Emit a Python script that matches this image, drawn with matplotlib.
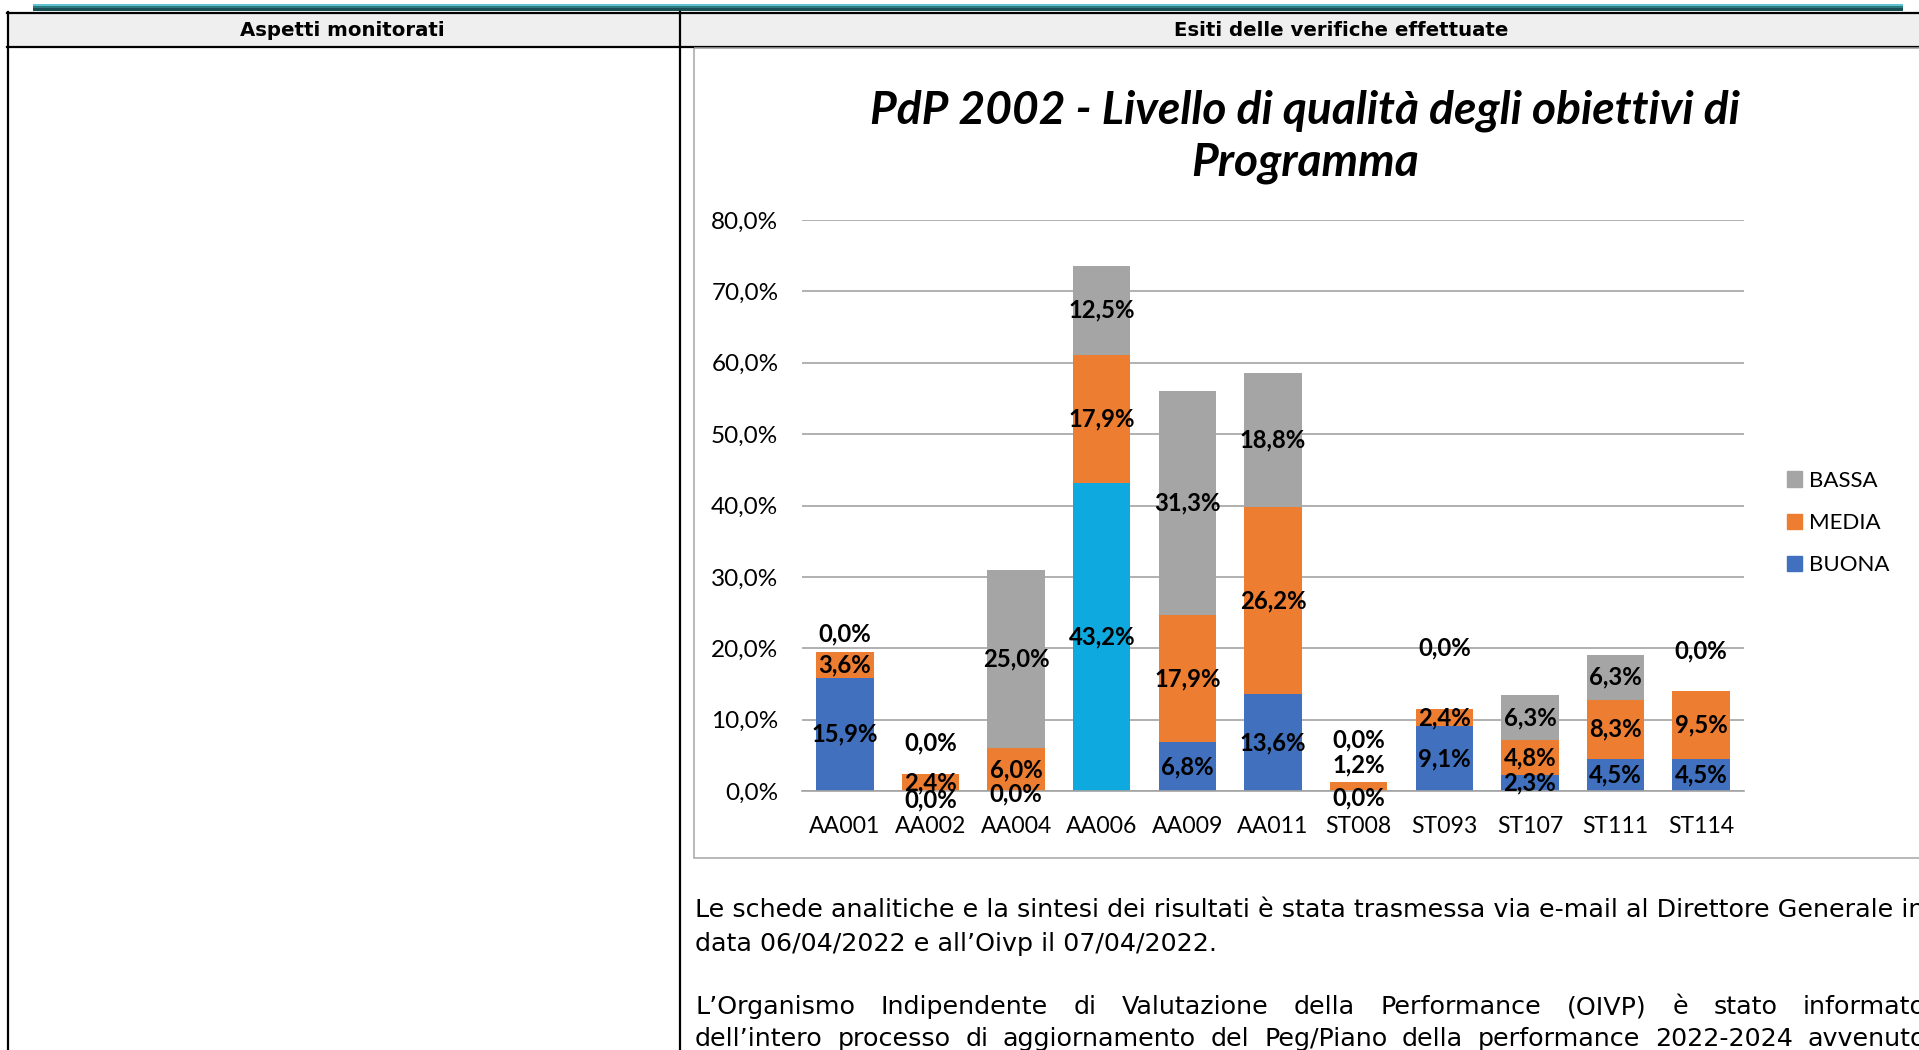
import numpy as np
import matplotlib
matplotlib.use("Agg")
import matplotlib.pyplot as plt
from matplotlib.transforms import Affine2D
from matplotlib.patches import Rectangle, Patch
from matplotlib.lines import Line2D

# ---------------- data ----------------
categories = ['AA001', 'AA002', 'AA004', 'AA006', 'AA009', 'AA011',
              'ST008', 'ST093', 'ST107', 'ST111', 'ST114']
buona = [15.9, 0.0, 0.0, 43.2, 6.8, 13.6, 0.0, 9.1, 2.3, 4.5, 4.5]
media = [3.6, 2.4, 6.0, 17.9, 17.9, 26.2, 1.2, 2.4, 4.8, 8.3, 9.5]
bassa = [0.0, 0.0, 25.0, 12.5, 31.3, 18.8, 0.0, 0.0, 6.3, 6.3, 0.0]
y_ticks = [0, 10, 20, 30, 40, 50, 60, 70, 80]

title_lines = ['PdP 2002 - Livello di qualità degli obiettivi di', 'Programma']
header_left = 'Aspetti monitorati'
header_right = 'Esiti delle verifiche effettuate'
para1 = ['Le schede analitiche e la sintesi dei risultati è stata trasmessa via e-mail al Direttore Generale in',
         'data 06/04/2022 e all’Oivp il 07/04/2022.']
para2 = ['L’Organismo Indipendente di Valutazione della Performance (OIVP) è stato informato',
         'dell’intero processo di aggiornamento del Peg/Piano della performance 2022-2024 avvenuto']

# ---------------- style ----------------
C_GRAY = '#A5A5A5'
C_ORANGE = '#ED7D31'
C_BLUE = '#4070BE'
C_HILITE = '#0EA9DE'      # highlighted AA006 BUONA bar
GRID = '#A3A3A3'
CHART_FONT = 'Lato'
BODY_FONT = 'DejaVu Sans'

# label nudges (percentage points) reproducing the original label layout
label_nudge = {
    'BASSA': {0: 2.5, 1: 4.3, 6: 6.0, 7: 8.6, 10: 5.6},
    'MEDIA': {6: 3.0},
    'BUONA': {1: -1.2, 2: -0.4, 6: -1.0},
}

W, H, DPI = 1919, 1050, 100
fig = plt.figure(figsize=(W / DPI, H / DPI), dpi=DPI)
fig.patch.set_facecolor('white')
pxT = Affine2D().scale(1 / W, -1 / H).translate(0, 1) + fig.transFigure
renderer = fig.canvas.get_renderer()


def text_width(s, size, **kw):
    t = fig.text(0, 0, s, fontsize=size, **kw)
    w = t.get_window_extent(renderer).width
    t.remove()
    return w


def fit_size(s, target, **kw):
    return 20 * target / text_width(s, 20, **kw)


def justify(line, x0, x1, y, size, **kw):
    words = line.split(' ')
    ws = [text_width(w, size, **kw) for w in words]
    gap = (x1 - x0 - sum(ws)) / (len(words) - 1)
    x = x0
    for w, wd in zip(words, ws):
        fig.text(x, y, w, transform=pxT, fontsize=size, ha='left', va='baseline', **kw)
        x += wd + gap


# ---------------- page decorations ----------------
for y0, y1, c in [(4, 6, '#62C2D2'), (6, 8, '#2A7A80'), (8, 11, '#1C4F54')]:
    fig.add_artist(Rectangle((33, y0), 1903 - 33, y1 - y0, transform=pxT,
                             facecolor=c, edgecolor='none', zorder=1))
fig.add_artist(Rectangle((8, 13), 1930, 33, transform=pxT,
                         facecolor='#EFEFEF', edgecolor='none', zorder=1))
for (xa, ya, xb, yb) in [(7, 12.5, 1930, 12.5), (7, 46.5, 1930, 46.5),
                         (8, 12, 8, 1060), (680, 12, 680, 1060)]:
    fig.add_artist(Line2D([xa, xb], [ya, yb], transform=pxT, color='black', lw=1.6, zorder=2))
fig.add_artist(Rectangle((694, 48), 1240, 810, transform=pxT, fill=False,
                         edgecolor='#A6A6A6', lw=1.1, zorder=2))

# header texts
hsize = fit_size(header_right, 335, family=BODY_FONT, fontweight='bold')
fig.text(342, 30, header_left, transform=pxT, fontsize=hsize, fontweight='bold',
         family=BODY_FONT, ha='center', va='center')
fig.text(1341, 30, header_right, transform=pxT, fontsize=hsize, fontweight='bold',
         family=BODY_FONT, ha='center', va='center')

# ---------------- chart ----------------
tsize = fit_size(title_lines[0], 869, family=CHART_FONT, fontweight='bold', fontstyle='italic')
for line, yb in zip(title_lines, [124, 175]):
    fig.text(1305, yb, line, transform=pxT, fontsize=tsize, fontweight='bold',
             fontstyle='italic', family=CHART_FONT, ha='center', va='baseline')

ax = fig.add_axes([802 / W, 1 - 791 / H, 942 / W, 571 / H])
x = np.arange(len(categories))
b = np.array(buona)
m = np.array(media)
s = np.array(bassa)
blue_colors = [C_HILITE if c == 'AA006' else C_BLUE for c in categories]
ax.bar(x, b, width=0.67, color=blue_colors, zorder=3)
ax.bar(x, m, bottom=b, width=0.67, color=C_ORANGE, zorder=3)
ax.bar(x, s, bottom=b + m, width=0.67, color=C_GRAY, zorder=3)
ax.set_xlim(-0.5, len(categories) - 0.5)
ax.set_ylim(0, 80)
ax.set_yticks(y_ticks)
ax.set_yticklabels([f'{v:.1f}%'.replace('.', ',') for v in y_ticks])
ax.set_xticks(x)
ax.set_xticklabels(categories)
ax.yaxis.grid(True, color=GRID, lw=1.2)
ax.set_axisbelow(True)
for sp in ['top', 'right', 'left']:
    ax.spines[sp].set_visible(False)
ax.spines['bottom'].set_color(GRID)
ax.spines['bottom'].set_linewidth(1.2)
ax.spines['bottom'].set_zorder(4)
ax.tick_params(axis='y', length=0, pad=17, labelsize=17.5)
ax.tick_params(axis='x', length=0, pad=18, labelsize=16.6)
for lab in ax.get_xticklabels() + ax.get_yticklabels():
    lab.set_family(CHART_FONT)

lsize = 17.2
for name, vals, bottoms in [('BUONA', b, np.zeros_like(b)), ('MEDIA', m, b), ('BASSA', s, b + m)]:
    for i, v in enumerate(vals):
        yc = bottoms[i] + v / 2 + label_nudge[name].get(i, 0)
        ax.text(i, yc, f'{v:.1f}%'.replace('.', ','), ha='center', va='center',
                fontsize=lsize, fontweight='bold', family=CHART_FONT, zorder=6, clip_on=False)

handles = [Patch(color=C_GRAY, label='BASSA'), Patch(color=C_ORANGE, label='MEDIA'),
           Patch(color=C_BLUE, label='BUONA')]
fs = 16.0
fig.legend(handles=handles, loc='center left', bbox_to_anchor=(1787 / W, 1 - 523 / H),
           bbox_transform=fig.transFigure, frameon=False, prop={'family': CHART_FONT, 'size': fs},
           handlelength=0.68, handleheight=0.68, handletextpad=0.3, labelspacing=1.0,
           borderpad=0, borderaxespad=0)

# ---------------- body text ----------------
bsize = fit_size('Le schede analitiche e la sintesi dei risultati è stata trasmessa via e-mail al Direttore Generale',
                 1198, family=BODY_FONT)
fig.text(695, 917, para1[0], transform=pxT, fontsize=bsize, family=BODY_FONT, ha='left', va='baseline')
fig.text(695, 951, para1[1], transform=pxT, fontsize=bsize, family=BODY_FONT, ha='left', va='baseline')
justify(para2[0], 695, 1926, 1014, bsize, family=BODY_FONT)
justify(para2[1], 695, 1926, 1046, bsize, family=BODY_FONT)

fig.savefig('out.png', dpi=DPI)
